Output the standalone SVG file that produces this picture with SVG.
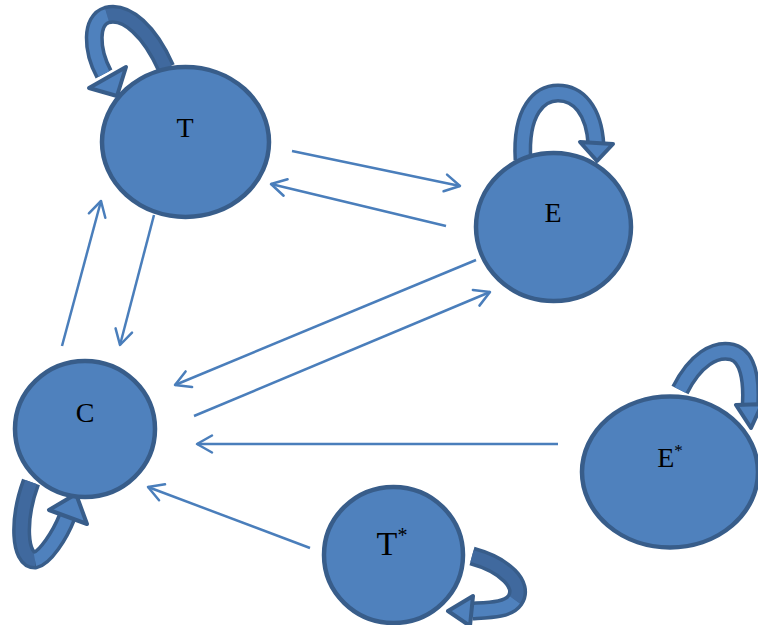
<svg xmlns="http://www.w3.org/2000/svg" width="758" height="625" viewBox="0 0 758 625">
  <style>
    .node { fill: #4f81bd; stroke: #385d8a; stroke-width: 4.5; }
    .label { font-family: "Liberation Serif", "Times New Roman", serif; fill: #000; text-anchor: middle; }
    .edge { stroke: #4a7ebb; stroke-width: 2.5; fill: none; marker-end: url(#open); }
    .band-out { fill: none; stroke: #385d8a; stroke-width: 19; }
    .band-in { fill: none; stroke: #4f81bd; stroke-width: 12; }
    .band-shade { fill: none; stroke: #40699e; stroke-width: 12; }
    .head { fill: #4f81bd; stroke: #385d8a; stroke-width: 4; stroke-linejoin: round; }
  </style>
  <defs>
    <marker id="open" markerUnits="userSpaceOnUse" markerWidth="30" markerHeight="30" viewBox="-20 -15 30 30" refX="0" refY="0" orient="auto">
      <path d="M -15 -8.5 L 0 0 L -15 8.5" fill="none" stroke="#4a7ebb" stroke-width="2.5" stroke-linecap="round" stroke-linejoin="round"/>
    </marker>
  </defs>

  <rect width="758" height="625" fill="#fff"/>

  <!-- straight connectors -->
  <g id="connectors">
    <line class="edge" x1="292" y1="151" x2="460" y2="186"/>
    <line class="edge" x1="446" y1="226" x2="271" y2="184"/>
    <line class="edge" x1="154" y1="215" x2="120" y2="345"/>
    <line class="edge" x1="62" y1="346" x2="101" y2="201"/>
    <line class="edge" x1="476" y1="260" x2="175" y2="385"/>
    <line class="edge" x1="194" y1="416" x2="490" y2="292"/>
    <line class="edge" x1="558" y1="444" x2="197" y2="444"/>
    <line class="edge" x1="310" y1="548" x2="148" y2="487"/>
  </g>

  <!-- self-loop curved arrows -->
  <g id="loops">
    <g id="loop-T">
      <path class="band-out" d="M 166 68 C 150 32, 127 10, 107 15 C 90 20, 91 50, 104 74"/>
      <path class="band-shade" d="M 166 68 C 150 32, 127 10, 107 15"/>
      <path class="band-in" d="M 107 15 C 90 20, 91 50, 104 74"/>
      <polygon class="head" points="89,88 126,67 117,96"/>
    </g>
    <g id="loop-E">
      <path class="band-out" d="M 523 160 C 520 110, 540 93, 558 93 C 578 93, 594 110, 596 145"/>
      <path class="band-in" d="M 523 160 C 520 110, 540 93, 558 93 C 578 93, 594 110, 596 145"/>
      <polygon class="head" points="580,142 613,144 597,161"/>
    </g>
    <g id="loop-C">
      <path class="band-out" d="M 31 482 C 17 520, 19 560, 35 560 C 45 558, 60 535, 67 517"/>
      <path class="band-shade" d="M 31 482 C 17 520, 19 560, 35 560"/>
      <path class="band-in" d="M 35 560 C 45 558, 60 535, 67 517"/>
      <polygon class="head" points="49,510 87,524 76,494"/>
    </g>
    <g id="loop-Tstar">
      <path class="band-out" d="M 472 556 C 505 565, 525 585, 515 600 C 508 610, 490 610, 472 611"/>
      <path class="band-shade" d="M 472 556 C 505 565, 525 585, 515 600"/>
      <path class="band-in" d="M 515 600 C 508 610, 490 610, 472 611"/>
      <polygon class="head" points="473,596 470,626 448,611"/>
    </g>
    <g id="loop-Estar">
      <path class="band-out" d="M 680 390 C 695 360, 715 348, 732 352 C 748 356, 752 380, 750 408"/>
      <path class="band-in" d="M 680 390 C 695 360, 715 348, 732 352 C 748 356, 752 380, 750 408"/>
      <polygon class="head" points="736,405 762,404 751,428"/>
    </g>
  </g>

  <!-- nodes -->
  <g id="node-T">
    <ellipse class="node" cx="185.5" cy="142" rx="83.5" ry="75"/>
    <text class="label" x="185" y="137" font-size="28">T</text>
  </g>
  <g id="node-E">
    <ellipse class="node" cx="553.5" cy="227" rx="77.5" ry="74"/>
    <text class="label" x="553" y="222" font-size="28">E</text>
  </g>
  <g id="node-C">
    <ellipse class="node" cx="85" cy="429" rx="70" ry="68"/>
    <text class="label" x="85" y="422" font-size="28">C</text>
  </g>
  <g id="node-Estar">
    <ellipse class="node" cx="670" cy="472" rx="88" ry="75.5"/>
    <text class="label" x="670" y="467" font-size="28">E<tspan font-size="17" dy="-11">*</tspan></text>
  </g>
  <g id="node-Tstar">
    <ellipse class="node" cx="393.5" cy="555" rx="69.5" ry="68"/>
    <text class="label" x="392" y="555" font-size="34">T<tspan font-size="20" dy="-13">*</tspan></text>
  </g>
</svg>
